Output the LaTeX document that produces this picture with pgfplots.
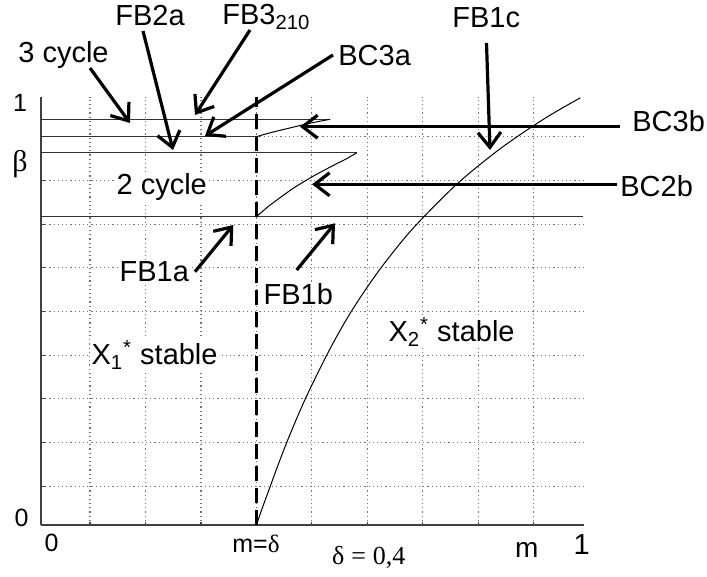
\documentclass[border=0pt]{standalone}
\usepackage{fontspec}
\setmainfont{Liberation Sans}
\newfontfamily\timesfont{Liberation Serif}
\usepackage{pgfplots}
\pgfplotsset{compat=1.18}
\usetikzlibrary{arrows.meta}

\tikzset{
  lab/.style={font=\fontsize{14.5}{16}\selectfont, inner sep=0pt, anchor=base west},
  labw/.style={lab, fill=white, inner sep=0.6pt},
  tl/.style={font=\fontsize{12.5}{14}\selectfont, inner sep=0pt, anchor=base},
  arr/.style={line width=1.6pt, -{Straight Barb[length=7.5pt,width=11.5pt,line width=1.6pt]}},
}

\begin{document}
\begin{tikzpicture}
\begin{axis}[
  name=ax, scale only axis,
  width=271.5pt, height=214.3pt,
  xmin=0.0116, xmax=0.9907, ymin=0.0107, ymax=0.9917,
  axis x line*=bottom, axis y line*=left,
  xtick={0.1,0.2,0.3,0.4,0.5,0.6,0.7,0.8,0.9},
  ytick={0.1,0.2,0.3,0.4,0.5,0.6,0.7,0.8,0.9},
  xticklabels={}, yticklabels={},
  tick align=inside, major tick length=1.8pt,
  tick style={black!75, line width=0.6pt},
  grid=major,
  grid style={black!55, line width=0.6pt, dash pattern=on 0.6pt off 1.5pt},
  axis line style={black!75, line width=0.8pt},
  clip=false,
]
% boundary lines
\addplot[black!80, line width=0.6pt] coordinates {(0.0116,0.940) (0.533,0.940)};
\addplot[black!80, line width=0.6pt] coordinates {(0.0116,0.900) (0.400,0.900)};
\addplot[black!80, line width=0.6pt] coordinates {(0.0116,0.8634) (0.581,0.8634)};
\addplot[black!80, line width=0.6pt] coordinates {(0.0116,0.7168) (0.9895,0.7168)};
% BC3a branch
\addplot[black, line width=0.5pt, smooth] coordinates {
  (0.400,0.900) (0.420,0.9075) (0.443,0.9148) (0.479,0.9258) (0.505,0.9332) (0.533,0.940)};
% BC2b branch
\addplot[black, line width=0.5pt, smooth] coordinates {
  (0.400,0.7168) (0.420,0.739) (0.449,0.7665) (0.470,0.785) (0.500,0.808) (0.520,0.822) (0.545,0.8385) (0.560,0.848) (0.581,0.8634)};
% FB1c
\addplot[black, line width=0.5pt, smooth] coordinates {
  (0.400,0.011) (0.410,0.048) (0.425,0.100) (0.440,0.152) (0.460,0.217) (0.490,0.305)
  (0.530,0.408) (0.570,0.498) (0.620,0.592) (0.680,0.687) (0.760,0.790) (0.840,0.873)
  (0.920,0.942) (0.984,0.989)};
% m = delta
\addplot[black, line width=1.3pt, dash pattern=on 7.5pt off 3.5pt] coordinates {(0.4,0.0107) (0.4,0.9917)};
\end{axis}

\begin{scope}[shift={(ax.south west)}, xshift=-20.5pt, yshift=262.65pt, x=0.5pt, y=-0.5pt]
\path[use as bounding box] (0,0) rectangle (707,577);
% labels
\node[lab] at (115,26) {FB2a};
\node[lab] at (222,25) {FB3\textsubscript{210}};
\node[lab] at (18,63) {3 cycle};
\node[lab] at (338,66) {BC3a};
\node[lab] at (452,28) {FB1c};
\node[lab] at (632,131.5) {BC3b};
\node[lab] at (620,196.5) {BC2b};
\node[labw] at (115,195) {2 cycle};
\node[labw] at (118,281.5) {FB1a};
\node[labw] at (262,305) {FB1b};
\node[labw] at (90,365) {X\textsubscript{1}\textsuperscript{*} stable};
\node[labw] at (387,341.7) {X\textsubscript{2}\textsuperscript{*} stable};
% axis labels
\node[tl] at (20,112) {1};
\node[tl, font=\fontsize{15}{17}\selectfont\timesfont] at (20,172) {β};
\node[tl] at (21.7,526.7) {0};
\node[tl] at (51.7,551.7) {0};
\node[tl] at (256,553) {m={\timesfont δ}};
\node[tl, anchor=base west, font=\fontsize{13}{15}\selectfont\timesfont] at (331.7,565) {δ\hspace{3.5pt}=\hspace{3.5pt}0,4};
\node[tl, font=\fontsize{14}{16}\selectfont] at (526.7,558) {m};
\node[tl, font=\fontsize{14.5}{16}\selectfont] at (581.7,555) {1};
% arrows
\draw[arr] (90,68) -- (130,123);
\draw[arr] (143,31) -- (173,150);
\draw[arr] (250,30) -- (195,115);
\draw[arr] (333,55) -- (205,136);
\draw[arr] (486.5,43) -- (490,150);
\draw[arr] (620,126.7) -- (300,126.7);
\draw[arr] (617,184.3) -- (312,184.3);
\draw[arr] (195,271.7) -- (233.3,225);
\draw[arr] (296.7,270) -- (335,223.3);
\end{scope}
\end{tikzpicture}
\end{document}
